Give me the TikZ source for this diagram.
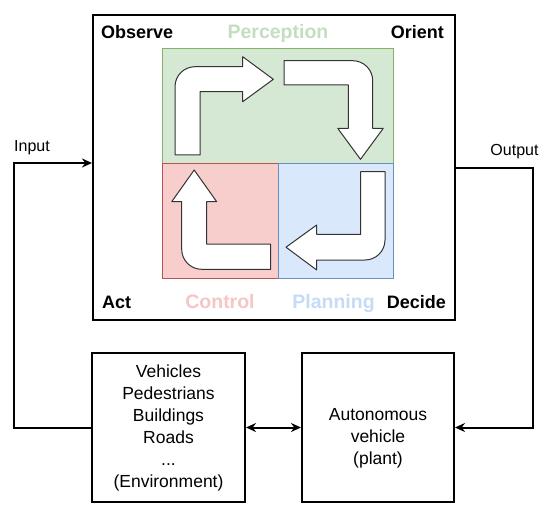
\documentclass[tikz,border=0pt]{standalone}
\usepackage{fontspec}
\setmainfont{Liberation Sans}
\usetikzlibrary{arrows.meta}
\definecolor{gfill}{HTML}{D5E8D4}\definecolor{gline}{HTML}{82B366}
\definecolor{rfill}{HTML}{F8CECC}\definecolor{rline}{HTML}{B85450}
\definecolor{bfill}{HTML}{DAE8FC}\definecolor{bline}{HTML}{6C8EBF}
\definecolor{gtext}{HTML}{C3DEC0}\definecolor{rtext}{HTML}{F5C6C5}\definecolor{btext}{HTML}{C6DBF6}
\tikzset{
  box/.style={draw=black,line width=2pt,fill=white,inner sep=0pt},
  quad/.style={line width=0.8pt},
  bigarrow/.style={draw=black!80,line width=1pt,fill=white,line join=round},
  conn/.style={line width=2pt,draw=black},
  tip/.style={-{Stealth[length=10pt,width=9pt]}},
  corner/.style={font=\fontsize{18}{20}\selectfont\bfseries},
  phase/.style={font=\fontsize{19.5}{22}\selectfont\bfseries},
  plain/.style={font=\fontsize{17.5}{22}\selectfont,align=center},
  io/.style={font=\fontsize{16}{18}\selectfont}
}
\begin{document}
\begin{tikzpicture}[x=1pt,y=-1pt]
\useasboundingbox (0,0) rectangle (550,511);
% main box
\node[box,minimum width=362pt,minimum height=305pt] (main) at (274,167.5) {};
% quadrants
\filldraw[quad,fill=gfill,draw=gline] (162,48) rectangle (393,163);
\filldraw[quad,fill=rfill,draw=rline] (162,163) rectangle (278,278);
\filldraw[quad,fill=bfill,draw=bline] (278,163) rectangle (393,278);
% block arrows
\filldraw[bigarrow] (200,155) -- (175,155) -- (175,86.7) arc[start angle=180,end angle=90,radius=20pt]
  -- (242.7,66.7) -- (242.7,56.7) -- (273.3,79.3) -- (242.7,101.7) -- (242.7,91.7) -- (200,91.7) -- cycle;
\filldraw[bigarrow] (284,60.7) -- (352.7,60.7) arc[start angle=90,end angle=0,radius=20pt]
  -- (372.7,128.3) -- (383.3,128.3) -- (360.5,159.3) -- (337.7,128.3) -- (348.3,128.3) -- (348.3,85) -- (284,85) -- cycle;
\filldraw[bigarrow] (360.7,171.7) -- (385,171.7) -- (385,240) arc[start angle=0,end angle=-90,radius=20pt]
  -- (316.7,260) -- (316.7,270) -- (286,247.2) -- (316.7,225) -- (316.7,234.3) -- (360.7,234.3) -- cycle;
\filldraw[bigarrow] (270.7,244) -- (270.7,269.3) -- (201.7,269.3) arc[start angle=270,end angle=180,radius=20pt]
  -- (181.7,201.7) -- (171.7,201.7) -- (194.2,170) -- (216.7,201.7) -- (206.7,201.7) -- (206.7,244) -- cycle;
% labels
\node[corner,anchor=base west,inner sep=0pt] (obs) at (101,38.5) {Observe};
\node[corner,anchor=base east,inner sep=0pt] (ori) at (444,38.5) {Orient};
\node[corner,anchor=base west,inner sep=0pt] (act) at (102,308.5) {Act};
\node[corner,anchor=base east,inner sep=0pt] (dec) at (446,308.5) {Decide};
\node[phase,text=gtext,anchor=base,inner sep=0pt] (per) at (278,38.5) {Perception};
\node[phase,text=rtext,anchor=base,inner sep=0pt] (ctl) at (220,308.5) {Control};
\node[phase,text=btext,anchor=base,inner sep=0pt] (pln) at (333.5,308.5) {Planning};
% bottom boxes
\node[box,minimum width=153pt,minimum height=149pt] (env) at (168.5,427.5) {};
\node[plain] (envtext) at (env.center) {Vehicles\\Pedestrians\\Buildings\\Roads\\...\\(Environment)};
\node[box,minimum width=152pt,minimum height=149pt] (av) at (378,427.5) {};
\node[plain] (avtext) at (378,438) {Autonomous\\vehicle\\(plant)};
% connectors
\coordinate (inA) at (14,427.5);
\coordinate (inB) at (14,163);
\coordinate (inC) at (main.west |- inB);
\draw[conn,tip] (env.west) -- (inA) -- (inB) -- (inC);
\coordinate (outA) at (main.east |- 0,168);
\coordinate (outB) at (533,168);
\coordinate (outC) at (533,427.5);
\draw[conn,tip] (outA) -- (outB) -- (outC) -- (av.east);
\draw[conn,{Stealth[length=10pt,width=9pt]}-{Stealth[length=10pt,width=9pt]}] (env.east) -- (av.west);
\node[io] (inlbl) at (32,148) {Input};
\node[io] (outlbl) at (514.5,152) {Output};
\end{tikzpicture}
\end{document}
